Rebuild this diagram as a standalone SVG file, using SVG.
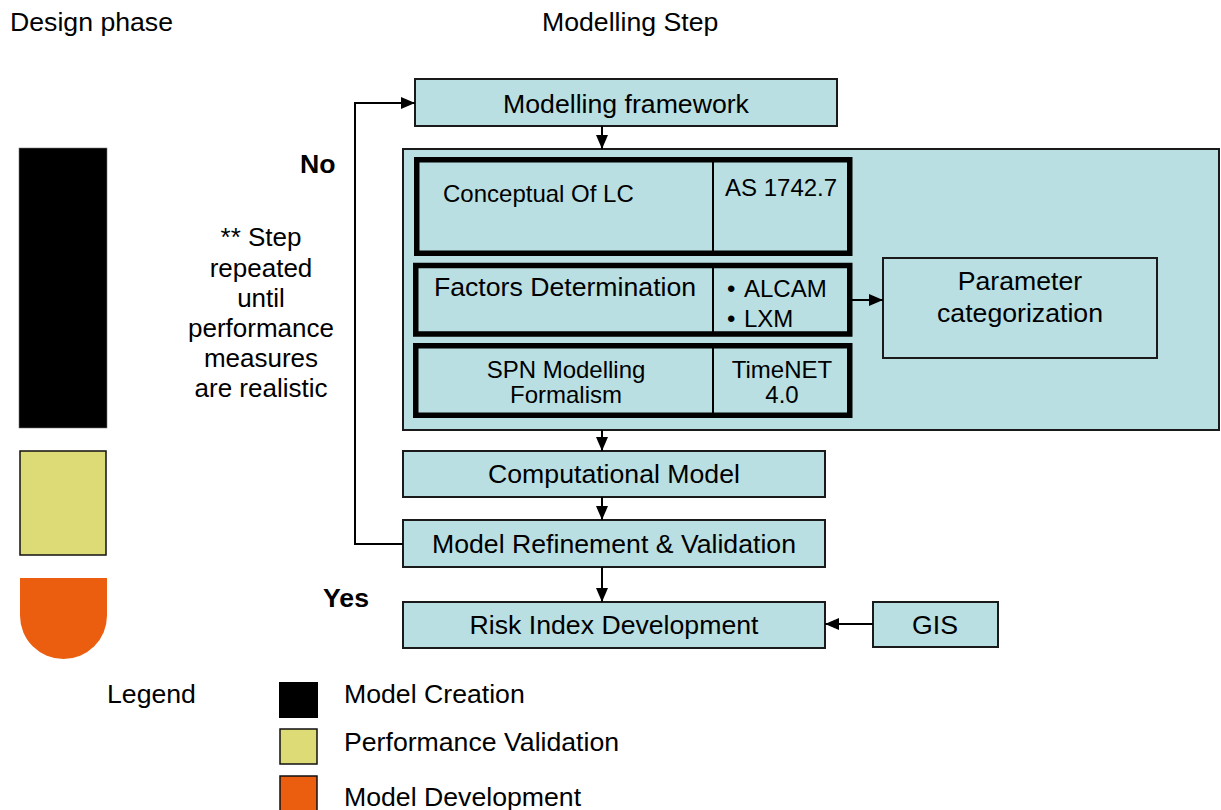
<svg xmlns="http://www.w3.org/2000/svg" width="1221" height="810" viewBox="0 0 1221 810">
<style>
text{font-family:"Liberation Sans",Arial,sans-serif;fill:#000}
.t26{font-size:26.67px}
.t24{font-size:24px}
.b{font-weight:bold}
.box{fill:#B9DFE2;stroke:#1a1a1a;stroke-width:2}
.thick{fill:#B9DFE2;stroke:#000;stroke-width:5.5}
.div{stroke:#000;stroke-width:2}
.con{fill:none;stroke:#000;stroke-width:2}
</style>
<defs>
<marker id="ah" markerUnits="userSpaceOnUse" markerWidth="14" markerHeight="12" refX="14" refY="6" orient="auto">
<path d="M0,0 L14,6 L0,12 Z" fill="#000"/>
</marker>
</defs>
<text class="t26" x="10" y="31">Design phase</text>
<text class="t26" x="542" y="31">Modelling Step</text>
<g id="phase-bars">
<rect x="19" y="148" width="88" height="280" fill="#000" stroke="#777" stroke-width="0.6"/>
<rect x="20" y="451" width="86" height="104" fill="#DDDB75" stroke="#111" stroke-width="1.5"/>
<path d="M20,578 H107 V615.5 A43.5,43.5 0 0 1 20,615.5 Z" fill="#EB5E10"/>
</g>
<g id="labels">
<text class="t26 b" x="300" y="173">No</text>
<text class="t26 b" x="323" y="607">Yes</text>
<text class="t24" text-anchor="middle" style="font-size:26px"><tspan x="261" y="246">** Step</tspan><tspan x="261" y="277">repeated</tspan><tspan x="261" y="307">until</tspan><tspan x="261" y="337">performance</tspan><tspan x="261" y="367">measures</tspan><tspan x="261" y="397">are realistic</tspan></text>
</g>
<g id="container">
<rect x="403" y="149" width="816" height="281" class="box"/>
</g>
<g id="modelling-framework">
<rect x="415" y="79" width="422" height="47" class="box"/>
<text class="t26" x="626" y="113" text-anchor="middle">Modelling framework</text>
</g>
<g id="conceptual">
<rect x="416.75" y="159.75" width="433" height="93.5" class="thick"/>
<line x1="713" y1="162" x2="713" y2="251" class="div"/>
<text class="t24" x="443" y="202">Conceptual Of LC</text>
<text class="t24" x="725" y="196">AS 1742.7</text>
</g>
<g id="factors">
<rect x="415.75" y="265.5" width="434" height="68.5" class="thick"/>
<line x1="713" y1="268" x2="713" y2="332" class="div"/>
<text class="t26" x="565" y="296" text-anchor="middle">Factors Determination</text>
<text class="t24" x="727" y="297">•</text>
<text class="t24" x="744" y="297">ALCAM</text>
<text class="t24" x="727" y="327">•</text>
<text class="t24" x="744" y="327">LXM</text>
</g>
<g id="spn">
<rect x="415.75" y="345.75" width="434" height="69.5" class="thick"/>
<line x1="713" y1="348" x2="713" y2="413" class="div"/>
<text class="t24" x="566" y="378" text-anchor="middle">SPN Modelling</text>
<text class="t24" x="566" y="403" text-anchor="middle">Formalism</text>
<text class="t24" x="782" y="378" text-anchor="middle">TimeNET</text>
<text class="t24" x="782" y="403" text-anchor="middle">4.0</text>
</g>
<g id="parameter">
<rect x="883" y="258" width="274" height="100" class="box"/>
<text class="t26" x="1020" y="290" text-anchor="middle">Parameter</text>
<text class="t26" x="1020" y="322" text-anchor="middle">categorization</text>
</g>
<g id="computational">
<rect x="403" y="451" width="422" height="46" class="box"/>
<text class="t26" x="614" y="483" text-anchor="middle">Computational Model</text>
</g>
<g id="refinement">
<rect x="403" y="520" width="422" height="47" class="box"/>
<text class="t26" x="614" y="553" text-anchor="middle">Model Refinement &amp; Validation</text>
</g>
<g id="risk">
<rect x="403" y="602" width="422" height="46" class="box"/>
<text class="t26" x="614" y="634" text-anchor="middle">Risk Index Development</text>
</g>
<g id="gis">
<rect x="873" y="602" width="125" height="45" class="box"/>
<text class="t26" x="935" y="634" text-anchor="middle">GIS</text>
</g>
<g id="connectors">
<line x1="602" y1="126" x2="602" y2="149" class="con" marker-end="url(#ah)"/>
<line x1="602" y1="430" x2="602" y2="451" class="con" marker-end="url(#ah)"/>
<line x1="602" y1="497" x2="602" y2="520" class="con" marker-end="url(#ah)"/>
<line x1="602" y1="567" x2="602" y2="602" class="con" marker-end="url(#ah)"/>
<line x1="852" y1="300" x2="883" y2="300" class="con" marker-end="url(#ah)"/>
<line x1="873" y1="624" x2="825" y2="624" class="con" marker-end="url(#ah)"/>
<polyline points="403,544 355,544 355,103 415,103" class="con" marker-end="url(#ah)"/>
</g>
<g id="legend">
<text class="t26" x="107" y="703">Legend</text>
<rect x="279" y="682" width="39" height="36" fill="#000"/>
<rect x="280" y="729" width="37" height="35" fill="#DDDB75" stroke="#111" stroke-width="1.5"/>
<rect x="280" y="776" width="37" height="36" fill="#EB5E10" stroke="#111" stroke-width="1.5"/>
<text class="t26" x="344" y="703">Model Creation</text>
<text class="t26" x="344" y="751">Performance Validation</text>
<text class="t26" x="344" y="806">Model Development</text>
</g>
</svg>
